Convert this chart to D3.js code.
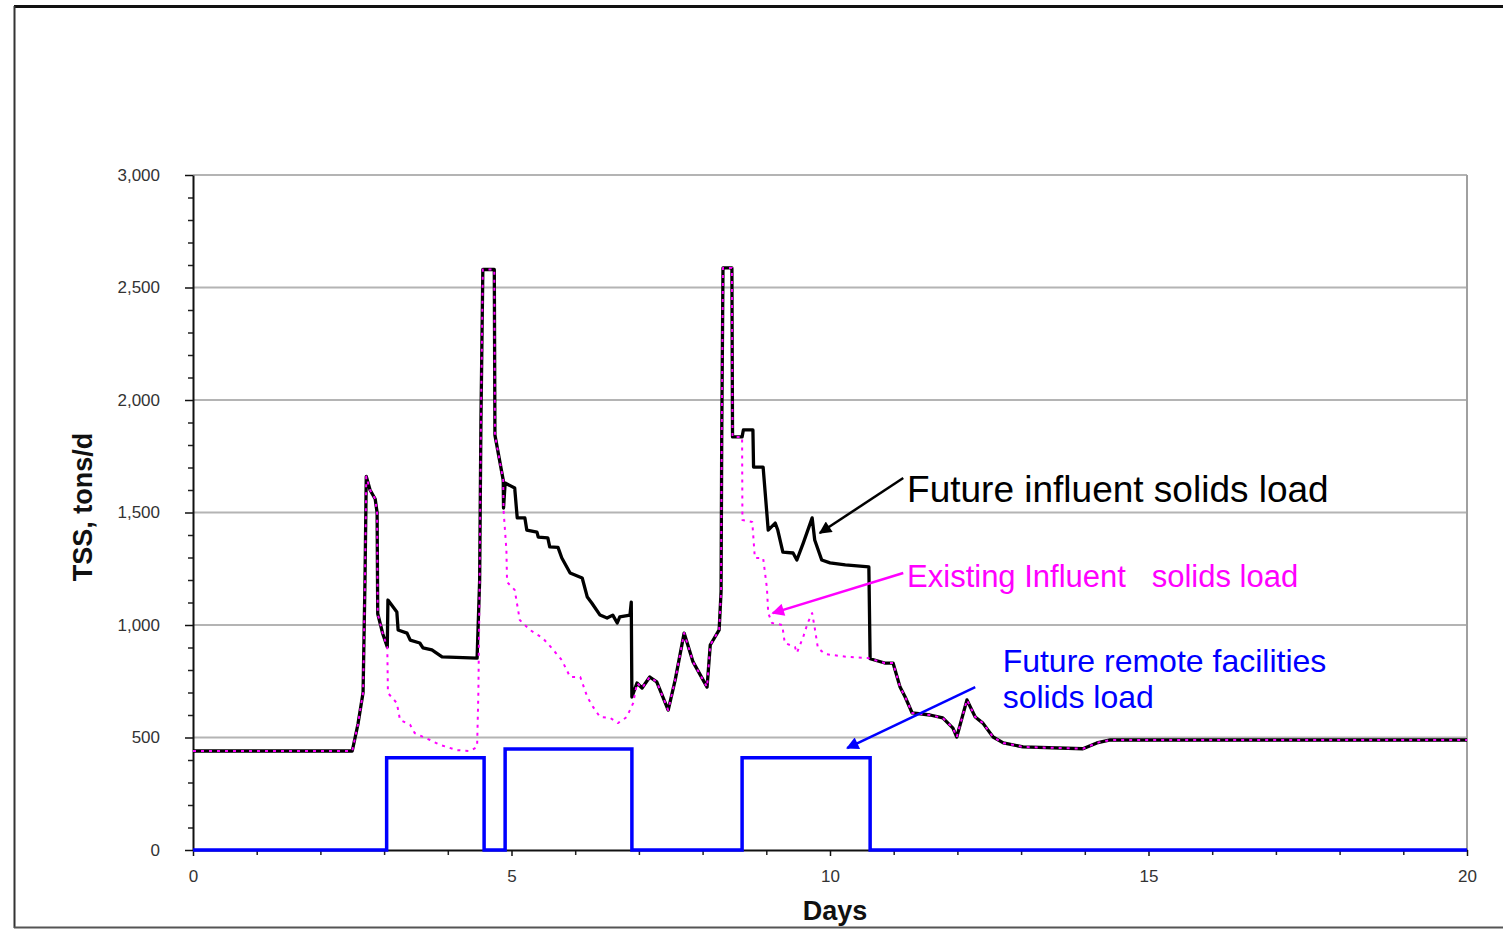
<!DOCTYPE html>
<html>
<head>
<meta charset="utf-8">
<script src="https://cdn.jsdelivr.net/npm/d3@7"></script>
<style>
  html, body { margin: 0; padding: 0; background: #fff; }
  svg { display: block; }
  text { font-family: "Liberation Sans", Arial, sans-serif; }
</style>
</head>
<body>
<svg id="chart" width="1503" height="942"></svg>
<script>
// Time axis (days) and TSS loads (tons/d)
const futureDays = [0, 2.50, 2.59, 2.67, 2.70, 2.72, 2.78, 2.86, 2.89, 2.90, 2.98, 3.05, 3.06, 3.20, 3.22,
  3.36, 3.41, 3.56, 3.61, 3.75, 3.91, 4.46, 4.50, 4.52, 4.55, 4.73, 4.74, 4.87, 4.875, 4.90, 5.05, 5.09,
  5.21, 5.24, 5.40, 5.42, 5.57, 5.60, 5.73, 5.79, 5.92, 6.11, 6.19, 6.26, 6.39, 6.50, 6.59, 6.66, 6.70,
  6.86, 6.88, 6.89, 6.97, 7.05, 7.17, 7.28, 7.46, 7.57, 7.71, 7.85, 8.07, 8.12, 8.26, 8.29, 8.30, 8.32,
  8.46, 8.47, 8.62, 8.64, 8.79, 8.80, 8.95, 9.03, 9.14, 9.18, 9.26, 9.42, 9.48, 9.58, 9.72, 9.76, 9.87,
  10.00, 10.24, 10.61, 10.63, 10.86, 10.99, 11.10, 11.18, 11.29, 11.57, 11.77, 11.93, 11.99, 12.15,
  12.28, 12.40, 12.56, 12.72, 13.03, 13.97, 14.19, 14.40, 20];
const futureLoad = [440, 440, 560, 700, 1200, 1660, 1600, 1560, 1500, 1050, 960, 902, 1111, 1058, 978,
  964, 933, 920, 898, 889, 858, 853, 1200, 1900, 2580, 2580, 1844, 1644, 1520, 1631, 1609, 1476,
  1476, 1422, 1413, 1391, 1387, 1347, 1345, 1298, 1231, 1209, 1124, 1098, 1044, 1031, 1044, 1009, 1036,
  1044, 1102, 680, 742, 720, 769, 747, 622, 756, 964, 836, 724, 911, 978, 1150, 1822, 2587,
  2587, 1836, 1836, 1867, 1867, 1702, 1702, 1422, 1453, 1422, 1324, 1320, 1289, 1364, 1476, 1378, 1289,
  1276, 1267, 1258, 850, 831, 831, 724, 680, 609, 600, 587, 542, 502, 667,
  591, 564, 502, 476, 458, 450, 476, 489, 489];

const existingDays = [0, 2.50, 2.59, 2.67, 2.70, 2.72, 2.78, 2.86, 2.89, 2.90, 2.98, 3.05, 3.06, 3.20,
  3.25, 3.41, 3.48, 3.72, 3.88, 4.14, 4.35, 4.46, 4.48, 4.50, 4.52, 4.55, 4.73, 4.74, 4.87, 4.875, 4.92,
  4.93, 5.05, 5.13, 5.29, 5.49, 5.63, 5.79, 5.92, 6.08, 6.19, 6.28, 6.39, 6.55, 6.67, 6.81, 6.91, 6.97,
  7.05, 7.17, 7.28, 7.46, 7.57, 7.71, 7.85, 8.07, 8.12, 8.26, 8.29, 8.30, 8.32, 8.46, 8.47, 8.62, 8.625,
  8.78, 8.82, 8.95, 9.01, 9.03, 9.09, 9.25, 9.29, 9.45, 9.48, 9.58, 9.65, 9.72, 9.76, 9.81, 9.92, 10.28,
  10.60, 10.63, 10.86, 10.99, 11.10, 11.18, 11.29, 11.57, 11.77, 11.93, 11.99, 12.15, 12.28, 12.40,
  12.56, 12.72, 13.03, 13.97, 14.19, 14.40, 20];
const existingLoad = [440, 440, 560, 700, 1200, 1660, 1600, 1560, 1500, 1050, 960, 902, 698, 653,
  578, 556, 520, 489, 467, 444, 440, 458, 700, 1200, 1900, 2580, 2580, 1844, 1644, 1511, 1333,
  1191, 1156, 1022, 978, 942, 898, 844, 769, 769, 680, 636, 591, 587, 564, 591, 653, 742,
  720, 769, 747, 622, 756, 964, 836, 724, 911, 978, 1150, 1822, 2587, 2587, 1836, 1836, 1467,
  1458, 1298, 1298, 1164, 1053, 1009, 1000, 920, 902, 876, 947, 1009, 1053, 987, 898, 871, 858,
  853, 850, 831, 831, 724, 680, 609, 600, 587, 542, 502, 667, 591, 564,
  502, 476, 458, 450, 476, 489, 489];

// Remote facilities load: value holds from each day until the next change
const remoteDays = [0, 3.04, 4.57, 4.90, 6.89, 8.62, 10.63, 20];
const remoteLoad = [0, 410, 0, 449, 0, 410, 0, 0];

const yTicks = [0, 500, 1000, 1500, 2000, 2500, 3000];
const xTicks = [0, 5, 10, 15, 20];

// Annotations: label lines, text anchor (day, load), arrow from/to (day, load), colour
const notes = [
  { lines: ["Future influent solids load"], at: [11.21, 1547], size: 37, lineGap: 0,
    from: [11.15, 1653], to: [9.84, 1409], color: "#000000" },
  { lines: ["Existing Influent"], extra: { text: "solids load", day: 15.05 }, at: [11.21, 1169], size: 31, lineGap: 0,
    from: [11.15, 1231], to: [9.10, 1053], color: "#ff00ff" },
  { lines: ["Future remote facilities", "solids load"], at: [12.71, 791], size: 32, lineGap: 36,
    from: [12.28, 724], to: [10.27, 453], color: "#0000ff" }
];

const svg = d3.select("#chart");

const x = d3.scaleLinear().domain([0, 20]).range([193, 1467]);
const y = d3.scaleLinear().domain([0, 3000]).range([850, 175]);

// Outer frame
svg.append("line").attr("x1", 14).attr("x2", 1503).attr("y1", 6.5).attr("y2", 6.5)
  .attr("stroke", "#111").attr("stroke-width", 3);
svg.append("line").attr("x1", 14.5).attr("x2", 14.5).attr("y1", 6).attr("y2", 928)
  .attr("stroke", "#333").attr("stroke-width", 2);
svg.append("line").attr("x1", 14).attr("x2", 1503).attr("y1", 927.5).attr("y2", 927.5)
  .attr("stroke", "#555").attr("stroke-width", 2);

// Horizontal gridlines and right border of plot area
svg.append("g").selectAll("line").data(yTicks.filter(d => d > 0)).join("line")
  .attr("x1", x(0)).attr("x2", x(20))
  .attr("y1", d => y(d)).attr("y2", d => y(d))
  .attr("stroke", "#b4b4b4").attr("stroke-width", 2);
svg.append("line").attr("x1", x(20)).attr("x2", x(20)).attr("y1", y(3000)).attr("y2", y(0))
  .attr("stroke", "#a0a0a0").attr("stroke-width", 2);

// Minor ticks
const yMinor = d3.range(0, 3001, 100).filter(d => d % 500 !== 0);
const xMinor = d3.range(0, 21, 1).filter(d => d % 5 !== 0);
svg.append("g").attr("transform", `translate(${x(0)},0)`)
  .call(d3.axisLeft(y).tickValues(yMinor).tickSize(5).tickFormat(""))
  .call(g => g.select(".domain").remove())
  .call(g => g.selectAll("line").attr("stroke", "#222").attr("stroke-width", 1.5));
svg.append("g").attr("transform", `translate(0,${y(0)})`)
  .call(d3.axisBottom(x).tickValues(xMinor).tickSize(5).tickFormat(""))
  .call(g => g.select(".domain").remove())
  .call(g => g.selectAll("line").attr("stroke", "#222").attr("stroke-width", 1.5));

// Major axes
const yAxis = svg.append("g").attr("transform", `translate(${x(0)},0)`)
  .call(d3.axisLeft(y).tickValues(yTicks).tickSize(8).tickSizeOuter(0).tickPadding(25)
    .tickFormat(d3.format(",")));
const xAxis = svg.append("g").attr("transform", `translate(0,${y(0)})`)
  .call(d3.axisBottom(x).tickValues(xTicks).tickSize(6).tickSizeOuter(0).tickPadding(14)
    .tickFormat(d3.format("d")));
[yAxis, xAxis].forEach(g => {
  g.select(".domain").attr("stroke", "#111").attr("stroke-width", 2);
  g.selectAll(".tick line").attr("stroke", "#111").attr("stroke-width", 1.5);
  g.selectAll(".tick text").attr("fill", "#333").style("font-size", "17px")
    .style("font-family", "'Liberation Sans', Arial, sans-serif");
});

// Series
const line = d3.line().x(d => x(d[0])).y(d => y(d[1])).curve(d3.curveLinear);
const stepLine = d3.line().x(d => x(d[0])).y(d => y(d[1])).curve(d3.curveStepAfter);

const future = futureDays.map((d, i) => [d, futureLoad[i]]);
const existing = existingDays.map((d, i) => [d, existingLoad[i]]);
const remote = remoteDays.map((d, i) => [d, remoteLoad[i]]);

svg.append("path").datum(future).attr("d", line)
  .attr("fill", "none").attr("stroke", "#000").attr("stroke-width", 3.3)
  .attr("stroke-linejoin", "round");
svg.append("path").datum(existing).attr("d", line)
  .attr("fill", "none").attr("stroke", "#ff00ff").attr("stroke-width", 2)
  .attr("stroke-dasharray", "3,5").attr("stroke-linejoin", "round");
svg.append("path").datum(remote).attr("d", stepLine)
  .attr("fill", "none").attr("stroke", "#0000ff").attr("stroke-width", 3.5);

// Annotations with arrows
const defs = svg.append("defs");
notes.forEach((n, i) => {
  defs.append("marker").attr("id", "arrow" + i)
    .attr("viewBox", "0 0 10 10").attr("refX", 9).attr("refY", 5)
    .attr("markerWidth", 6).attr("markerHeight", 5).attr("orient", "auto")
    .attr("markerUnits", "strokeWidth")
    .append("path").attr("d", "M0,0 L10,5 L0,10 Z").attr("fill", n.color);
  svg.append("line")
    .attr("x1", x(n.from[0])).attr("y1", y(n.from[1]))
    .attr("x2", x(n.to[0])).attr("y2", y(n.to[1]))
    .attr("stroke", n.color).attr("stroke-width", 2.5)
    .attr("marker-end", `url(#arrow${i})`);
  n.lines.forEach((t, k) => {
    svg.append("text").attr("x", x(n.at[0])).attr("y", y(n.at[1]) + k * n.lineGap)
      .attr("fill", n.color).style("font-size", n.size + "px").text(t);
  });
  if (n.extra) {
    svg.append("text").attr("x", x(n.extra.day)).attr("y", y(n.at[1]))
      .attr("fill", n.color).style("font-size", n.size + "px").text(n.extra.text);
  }
});

// Axis titles
svg.append("text").attr("x", 835).attr("y", 920).attr("text-anchor", "middle")
  .style("font-size", "27px").style("font-weight", "bold").attr("fill", "#111").text("Days");
svg.append("text").attr("transform", "translate(92,507) rotate(-90)").attr("text-anchor", "middle")
  .style("font-size", "27px").style("font-weight", "bold").attr("fill", "#111").text("TSS, tons/d");
</script>
</body>
</html>
